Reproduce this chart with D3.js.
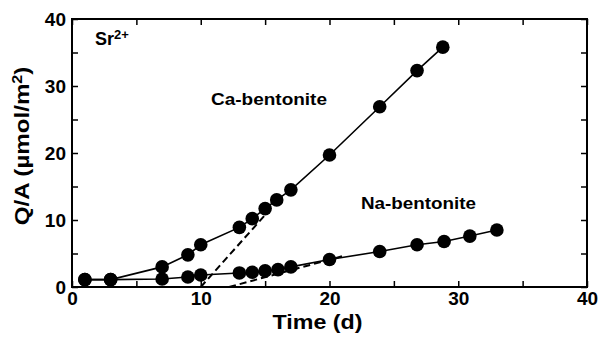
<!DOCTYPE html>
<html>
<head>
<meta charset="utf-8">
<script src="https://cdn.jsdelivr.net/npm/d3@7"></script>
<style>
  body { margin: 0; background: #fff; }
  text { font-family: "Liberation Sans", Arial, sans-serif; font-weight: bold; fill: #000; }
</style>
</head>
<body>
<div id="chart"></div>
<script>
// Ca-bentonite
const caDays = [1, 3, 7, 9, 10, 13, 14, 15, 15.9, 17, 20, 23.9, 26.8, 28.8];
const caQ    = [1.1, 1.1, 3.0, 4.8, 6.3, 8.9, 10.2, 11.7, 13.0, 14.5, 19.7, 26.9, 32.3, 35.8];
// Na-bentonite
const naDays = [1, 3, 7, 9, 10, 13, 14, 15, 16, 17, 20, 23.9, 26.8, 28.9, 30.9, 33];
const naQ    = [1.1, 1.1, 1.2, 1.5, 1.8, 2.1, 2.2, 2.4, 2.6, 3.0, 4.1, 5.3, 6.3, 6.8, 7.6, 8.5];
// dashed steady-state lines
const caFitDays = [10, 15.3];
const caFitQ    = [0, 11.4];
const naFitDays = [12.2, 21];
const naFitQ    = [0, 4.6];

const xTicks = [0, 5, 10, 15, 20, 25, 30, 35, 40];
const yTicks = [0, 5, 10, 15, 20, 25, 30, 35, 40];

const width = 603, height = 351;
const margin = {top: 19, right: 16, bottom: 64, left: 72};
const w = width - margin.left - margin.right;
const h = height - margin.top - margin.bottom;

const svg = d3.select("#chart").append("svg")
    .attr("width", width)
    .attr("height", height);

const g = svg.append("g")
    .attr("transform", `translate(${margin.left},${margin.top})`);

const x = d3.scaleLinear().domain([0, 40]).range([0, w]);
const y = d3.scaleLinear().domain([0, 40]).range([h, 0]);

const lbl = d => (d % 10 === 0 ? d : "");

function styleAxis(sel) {
  sel.select(".domain").remove();
  sel.selectAll(".tick line").attr("stroke", "#000").attr("stroke-width", 1.5);
  sel.selectAll(".tick text")
    .style("font-size", "19px")
    .style("font-family", '"Liberation Sans", Arial, sans-serif')
    .style("font-weight", "bold");
}

g.append("g")
    .attr("transform", `translate(0,${h})`)
    .call(d3.axisBottom(x).tickValues(xTicks).tickFormat(lbl).tickSize(-6).tickPadding(5))
    .call(styleAxis);

g.append("g")
    .call(d3.axisTop(x).tickValues(xTicks).tickFormat("").tickSize(-6))
    .call(styleAxis);

g.append("g")
    .call(d3.axisLeft(y).tickValues(yTicks).tickFormat(lbl).tickSize(-6).tickPadding(6))
    .call(styleAxis);

g.append("g")
    .attr("transform", `translate(${w},0)`)
    .call(d3.axisRight(y).tickValues(yTicks).tickFormat("").tickSize(-6))
    .call(styleAxis);

// frame
g.append("rect")
    .attr("width", w).attr("height", h)
    .attr("fill", "none").attr("stroke", "#000").attr("stroke-width", 2);

const line = d3.line().x(d => x(d[0])).y(d => y(d[1]));

const caPts = caDays.map((d, i) => [d, caQ[i]]);
const naPts = naDays.map((d, i) => [d, naQ[i]]);

[caPts, naPts].forEach(pts => {
  g.append("path").datum(pts)
    .attr("d", line)
    .attr("fill", "none").attr("stroke", "#000").attr("stroke-width", 1.6);
});

[[caFitDays, caFitQ], [naFitDays, naFitQ]].forEach(([dx, dy]) => {
  g.append("path").datum(dx.map((d, i) => [d, dy[i]]))
    .attr("d", line)
    .attr("fill", "none").attr("stroke", "#000").attr("stroke-width", 2)
    .attr("stroke-dasharray", "7,4");
});

[caPts, naPts].forEach(pts => {
  g.append("g").selectAll("circle").data(pts).enter().append("circle")
    .attr("cx", d => x(d[0]))
    .attr("cy", d => y(d[1]))
    .attr("r", 6.8)
    .attr("fill", "#000");
});

// annotations
const sr = svg.append("text").attr("x", 95).attr("y", 45).style("font-size", "18px");
sr.append("tspan").text("Sr");
sr.append("tspan").attr("dy", -6).style("font-size", "13px").text("2+");

svg.append("text").attr("x", 211).attr("y", 105)
    .style("font-size", "17px")
    .attr("textLength", 116).attr("lengthAdjust", "spacingAndGlyphs")
    .text("Ca-bentonite");

svg.append("text").attr("x", 361).attr("y", 209)
    .style("font-size", "17px")
    .attr("textLength", 115).attr("lengthAdjust", "spacingAndGlyphs")
    .text("Na-bentonite");

svg.append("text")
    .attr("x", margin.left + w / 2 - 12).attr("y", 329)
    .attr("text-anchor", "middle")
    .style("font-size", "20px")
    .attr("textLength", 90).attr("lengthAdjust", "spacingAndGlyphs")
    .text("Time (d)");

const yl = svg.append("text")
    .attr("transform", "translate(29,146) rotate(-90) scale(1.15,1)")
    .attr("text-anchor", "middle")
    .style("font-size", "21px");
yl.append("tspan").text("Q/A (\u00b5mol/m");
yl.append("tspan").attr("dy", -7).style("font-size", "14px").text("2");
yl.append("tspan").attr("dy", 7).text(")");
</script>
</body>
</html>
